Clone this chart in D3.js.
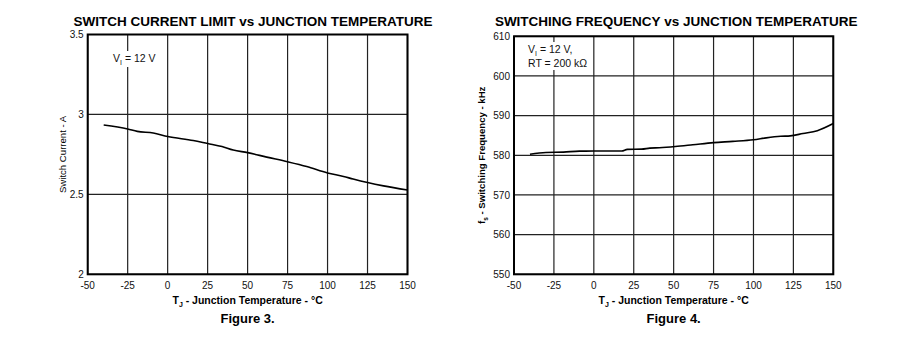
<!DOCTYPE html>
<html><head><meta charset="utf-8">
<script src="https://cdn.jsdelivr.net/npm/d3@7"></script>
<style>
body{margin:0;background:#fff;}
svg{display:block;font-family:"Liberation Sans",Arial,sans-serif;}
</style></head><body>
<svg id="c" width="904" height="339"></svg>
<script>
// Data
const xTicks = [-50,-25,0,25,50,75,100,125,150];
const yTicks1 = [2,2.5,3,3.5];
const yTicks1Labels = ["2","2.5","3","3.5"];
const yTicks2 = [550,560,570,580,590,600,610];
const temp1 = [-40,-25,-19,-9,0,16,25,34,41,50,62,75,87,100,110,116,125,135,150];
const current = [2.934,2.909,2.894,2.884,2.862,2.837,2.818,2.799,2.777,2.761,2.733,2.704,2.674,2.634,2.612,2.596,2.574,2.553,2.527];
const temp2 = [-40,-30,-19,-9,0,17.5,21,30,35,41,51,62,75,87,100,108,117,123,131,140,150];
const freq = [580.25,580.7,580.8,581.05,581.07,581.07,581.5,581.55,581.8,581.9,582.2,582.65,583.2,583.5,583.9,584.4,584.8,584.9,585.5,586.2,588];

const svg = d3.select("#c");

function chart(o){
  const x = d3.scaleLinear().domain([-50,150]).range([o.x0,o.x1]);
  const y = d3.scaleLinear().domain(o.yDomain).range([o.y1,o.y0]);
  const g = svg.append("g");
  // grid
  g.selectAll(".vg").data(xTicks).join("line")
    .attr("x1",d=>x(d)).attr("x2",d=>x(d)).attr("y1",o.y0).attr("y2",o.y1)
    .attr("stroke","#222").attr("stroke-width",1.2);
  g.selectAll(".hg").data(o.yTicks).join("line")
    .attr("y1",d=>y(d)).attr("y2",d=>y(d)).attr("x1",o.x0).attr("x2",o.x1)
    .attr("stroke","#222").attr("stroke-width",1.2);
  // annotation with white bg
  const ng = g.append("g");
  o.notes.forEach((n,i)=>{
    const t = ng.append("text").attr("x",n.x).attr("y",n.y).attr("font-size",10.5).attr("fill","#111");
    n.parts.forEach(p=>{
      const ts=t.append("tspan").text(p.t);
      if(p.sub){ts.attr("font-size",7).attr("dy",3);} else if(p.after){ts.attr("dy",-3);}
    });
  });
  const bb = ng.selectAll("text").nodes().map(n=>n.getBBox());
  bb.forEach(b=>{
    ng.insert("rect","text").attr("x",b.x-2).attr("y",b.y-1).attr("width",b.width+4).attr("height",b.height+2).attr("fill","#fff");
  });
  // frame
  g.append("rect").attr("x",o.x0).attr("y",o.y0).attr("width",o.x1-o.x0).attr("height",o.y1-o.y0)
    .attr("fill","none").attr("stroke","#000").attr("stroke-width",2);
  // line
  const line = d3.line().x(d=>x(d[0])).y(d=>y(d[1])).curve(d3.curveMonotoneX);
  g.append("path").datum(o.tx.map((t,i)=>[t,o.vals[i]])).attr("d",line)
    .attr("fill","none").attr("stroke","#000").attr("stroke-width",1.6);
  // axes labels
  g.selectAll(".xt").data(xTicks).join("text").attr("x",d=>x(d)).attr("y",o.y1+14.5)
    .attr("text-anchor","middle").attr("font-size",10).attr("fill","#111").text(d=>d);
  g.selectAll(".yt").data(o.yTicks).join("text")
    .attr("x",o.x0-4)
    .attr("y",d=>y(d)+3.6)
    .attr("text-anchor","end").attr("font-size",10).attr("fill","#111").text((d,i)=>o.yLabels[i]);
  // title
  g.append("text").attr("x",(o.x0+o.x1)/2 + o.titleDx).attr("y",25.5).attr("text-anchor","middle")
    .attr("font-size",13.5).attr("font-weight","bold").text(o.title);
  // x axis title
  const xt = g.append("text").attr("x",(o.x0+o.x1)/2).attr("y",o.y1+30).attr("text-anchor","middle")
    .attr("font-size",10.5).attr("font-weight","bold");
  xt.append("tspan").text("T");
  xt.append("tspan").text("J").attr("font-size",7).attr("dy",3);
  xt.append("tspan").text(" - Junction Temperature - °C").attr("dy",-3);
  // caption
  g.append("text").attr("x",(o.x0+o.x1)/2).attr("y",o.y1+49).attr("text-anchor","middle")
    .attr("font-size",13).attr("font-weight","bold").text(o.caption);
  // y title
  const yt = g.append("text").attr("transform",`translate(${o.yTitleX},${(o.y0+o.y1)/2}) rotate(-90)`)
    .attr("text-anchor","middle").attr("font-size",9.6).attr("font-weight",o.yBold?"bold":"normal");
  o.yTitle.forEach(p=>{
    const ts = yt.append("tspan").text(p.t);
    if(p.sub) ts.attr("font-size",6.5).attr("dy",3); else if(p.after) ts.attr("dy",-3);
  });
}

chart({x0:87.7,x1:407.5,y0:34.5,y1:274.3,yDomain:[2,3.5],yTicks:yTicks1,yLabels:yTicks1Labels,
  tx:temp1,vals:current,title:"SWITCH CURRENT LIMIT vs JUNCTION TEMPERATURE",titleDx:5.5,
  caption:"Figure 3.",yTitleX:65.5,yBold:false,yTitle:[{t:"Switch Current - A"}],
  notes:[{x:113,y:62,parts:[{t:"V"},{t:"I",sub:true},{t:" = 12 V",after:true}]}]});

chart({x0:514,x1:833.3,y0:36.3,y1:274.3,yDomain:[550,610],yTicks:yTicks2,yLabels:yTicks2.map(String),
  tx:temp2,vals:freq,title:"SWITCHING FREQUENCY vs JUNCTION TEMPERATURE",titleDx:2.5,
  caption:"Figure 4.",yTitleX:485,yBold:true,yTitle:[{t:"f"},{t:"s",sub:true},{t:" - Switching Frequency - kHz",after:true}],
  notes:[{x:528,y:53,parts:[{t:"V"},{t:"I",sub:true},{t:" = 12 V,",after:true}]},
         {x:528,y:67,parts:[{t:"RT = 200 kΩ"}]}]});
</script>
</body></html>
